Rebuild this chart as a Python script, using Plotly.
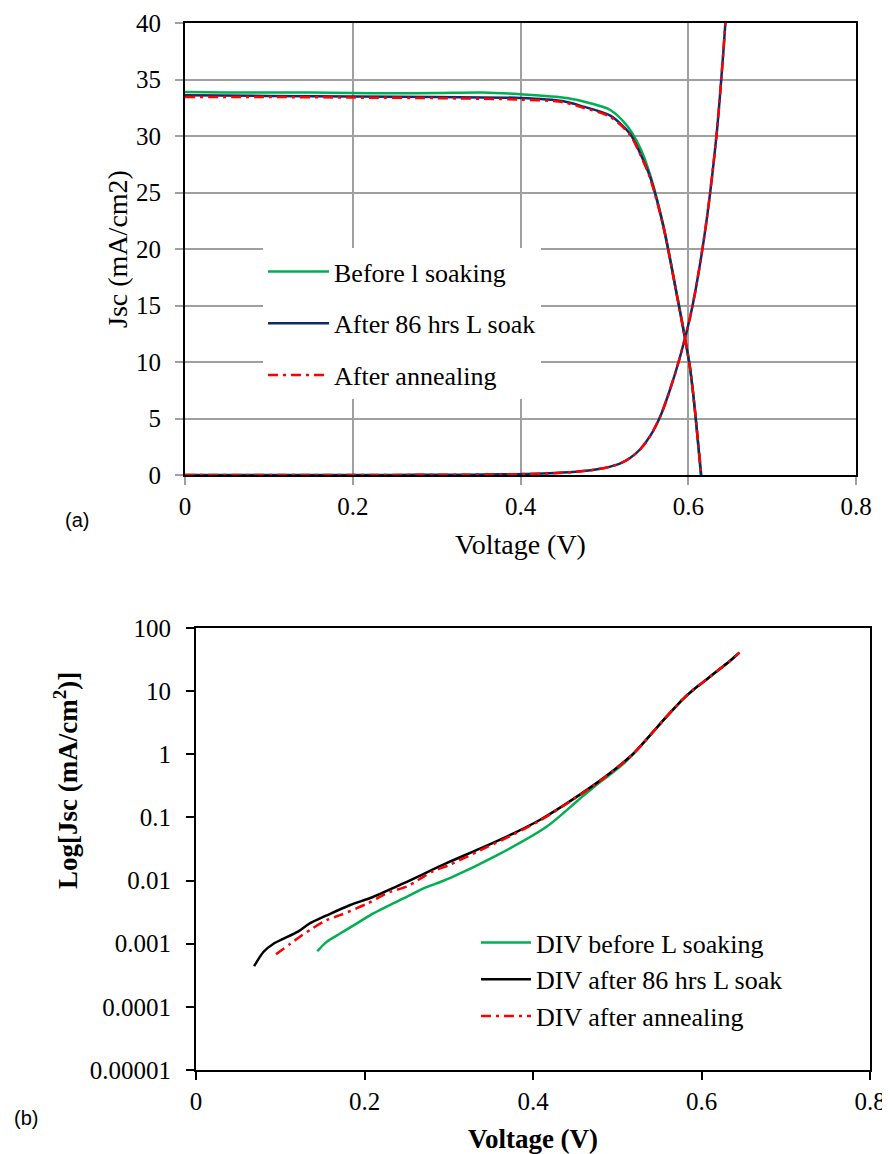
import plotly.graph_objects as go

# ---------------- (a) Illuminated J-V ----------------
V_light_before = [0.000, 0.050, 0.100, 0.150, 0.200, 0.250, 0.300, 0.355, 0.400, 0.455, 0.483, 0.507,
                  0.527, 0.543, 0.5544, 0.5703, 0.5862, 0.5941, 0.6021, 0.608, 0.615]
J_light_before = [33.9, 33.85, 33.85, 33.85, 33.8, 33.78, 33.8, 33.85, 33.7, 33.37, 32.9, 32.3,
                  30.9, 28.9, 26.6, 22.1, 16.1, 13.0, 9.5, 5.7, 0.0]

V_light_soak = [0.000, 0.100, 0.200, 0.300, 0.400, 0.450, 0.475, 0.507, 0.5306, 0.5425, 0.5544, 0.5703,
                0.5862, 0.5941, 0.6021, 0.608, 0.6155]
J_light_soak = [33.6, 33.55, 33.5, 33.45, 33.37, 33.1, 32.6, 31.8, 30.2, 28.5, 26.4, 22.0,
                16.0, 12.9, 9.5, 5.7, 0.0]

V_light_anneal = [0.000, 0.100, 0.200, 0.300, 0.400, 0.450, 0.475, 0.507, 0.5306, 0.5425, 0.5544, 0.5703,
                  0.5862, 0.5941, 0.6021, 0.608, 0.6155]
J_light_anneal = [33.45, 33.45, 33.4, 33.35, 33.22, 33.0, 32.5, 31.7, 30.1, 28.4, 26.3, 22.0,
                  16.0, 12.9, 9.5, 5.7, 0.0]

# ---------------- (b) Dark J-V (also the dark curves of panel a) ----------------
V_dark_before = [0.144, 0.155, 0.171, 0.191, 0.210, 0.230, 0.250, 0.270, 0.290, 0.302, 0.357, 0.416,
                 0.456, 0.472, 0.495, 0.507, 0.519, 0.531, 0.543, 0.555, 0.567, 0.578, 0.590, 0.602,
                 0.610, 0.622, 0.634, 0.642, 0.645]
J_dark_before = [7.6e-4, 1.07e-3, 1.45e-3, 2.1e-3, 3.0e-3, 4.1e-3, 5.5e-3, 7.5e-3, 9.5e-3, 0.011, 0.025, 0.071,
                 0.20, 0.30, 0.52, 0.70, 1.01, 1.51, 2.3, 3.5, 5.25, 7.5, 10.4, 13.9,
                 16.9, 22.6, 30.3, 37.6, 40.8]

V_dark_soak = [0.069, 0.080, 0.092, 0.104, 0.121, 0.135, 0.155, 0.183, 0.210, 0.246, 0.298, 0.337,
               0.377, 0.408, 0.440, 0.472, 0.495, 0.507, 0.519, 0.531, 0.543, 0.555, 0.567, 0.578,
               0.590, 0.602, 0.610, 0.622, 0.634, 0.642, 0.645]
J_dark_soak = [4.4e-4, 7.4e-4, 1.0e-3, 1.2e-3, 1.55e-3, 2.1e-3, 2.8e-3, 4.1e-3, 5.5e-3, 9.0e-3, 0.019, 0.032,
               0.056, 0.091, 0.167, 0.325, 0.55, 0.74, 1.02, 1.52, 2.3, 3.5, 5.25, 7.5,
               10.4, 13.9, 16.9, 22.6, 30.3, 37.6, 40.8]

V_dark_anneal = [0.095, 0.112, 0.123, 0.139, 0.155, 0.171, 0.203, 0.230, 0.250, 0.281, 0.300, 0.337,
                 0.377, 0.408, 0.440, 0.472, 0.495, 0.507, 0.519, 0.531, 0.543, 0.555, 0.567, 0.578,
                 0.590, 0.602, 0.610, 0.622, 0.634, 0.642, 0.645]
J_dark_anneal = [6.8e-4, 1.0e-3, 1.28e-3, 1.78e-3, 2.36e-3, 2.83e-3, 4.3e-3, 6.6e-3, 8.0e-3, 0.014, 0.0175, 0.030,
                 0.054, 0.089, 0.165, 0.32, 0.545, 0.735, 1.02, 1.51, 2.3, 3.5, 5.25, 7.5,
                 10.4, 13.9, 16.9, 22.6, 30.3, 37.6, 40.8]

names_a = ["Before l soaking", "After 86 hrs L soak", "After annealing"]
names_b = ["DIV before L soaking", "DIV after 86 hrs L soak", "DIV after annealing"]
x_ticks = [0, 0.2, 0.4, 0.6, 0.8]
y_ticks_a = [0, 5, 10, 15, 20, 25, 30, 35, 40]
y_ticks_b = [1e-5, 1e-4, 1e-3, 1e-2, 1e-1, 1, 10, 100]
y_ticktext_b = ["0.00001", "0.0001", "0.001", "0.01", "0.1", "1", "10", "100"]

GREEN = "#00b050"
NAVY = "#0e2a6b"
RED = "#ff0000"
BLACK = "#000000"
DASHDOT = "10px,5px,3px,5px"
SERIF = "Liberation Serif, Times New Roman, serif"
SANS = "Liberation Sans, Arial, sans-serif"

# the page adds an 8 px body margin before the figure
OFF = 8
W, H = 890 - OFF, 1154 - OFF


def X(s):
    return (s - OFF) / W


def Y(s):
    return 1 - (s - OFF) / H


fig = go.Figure()

spl = dict(shape="spline", smoothing=0.8, width=2.5)

# panel (a)
fig.add_trace(go.Scatter(x=V_light_before, y=J_light_before, mode="lines", name=names_a[0],
                         line=dict(color=GREEN, **spl),
                         xaxis="x", yaxis="y", legend="legend", legendgroup="a1"))
fig.add_trace(go.Scatter(x=V_light_soak, y=J_light_soak, mode="lines", name=names_a[1],
                         line=dict(color=NAVY, **spl),
                         xaxis="x", yaxis="y", legend="legend", legendgroup="a2"))
fig.add_trace(go.Scatter(x=[0.0] + V_dark_soak, y=[0.0] + J_dark_soak, mode="lines", name=names_a[1],
                         line=dict(color=NAVY, **spl),
                         xaxis="x", yaxis="y", legend="legend", legendgroup="a2", showlegend=False))
fig.add_trace(go.Scatter(x=V_light_anneal, y=J_light_anneal, mode="lines", name=names_a[2],
                         line=dict(color=RED, dash=DASHDOT, **spl),
                         xaxis="x", yaxis="y", legend="legend", legendgroup="a3"))
fig.add_trace(go.Scatter(x=[0.0] + V_dark_anneal, y=[0.0] + J_dark_anneal, mode="lines", name=names_a[2],
                         line=dict(color=RED, dash=DASHDOT, **spl),
                         xaxis="x", yaxis="y", legend="legend", legendgroup="a3", showlegend=False))

# panel (b)
fig.add_trace(go.Scatter(x=V_dark_before, y=J_dark_before, mode="lines", name=names_b[0],
                         line=dict(color=GREEN, **spl),
                         xaxis="x2", yaxis="y2", legend="legend2", legendgroup="b1"))
fig.add_trace(go.Scatter(x=V_dark_soak, y=J_dark_soak, mode="lines", name=names_b[1],
                         line=dict(color=BLACK, **spl),
                         xaxis="x2", yaxis="y2", legend="legend2", legendgroup="b2"))
fig.add_trace(go.Scatter(x=V_dark_anneal, y=J_dark_anneal, mode="lines", name=names_b[2],
                         line=dict(color=RED, dash=DASHDOT, **spl),
                         xaxis="x2", yaxis="y2", legend="legend2", legendgroup="b3"))

tick_font = dict(family=SERIF, size=25, color="black")

fig.update_layout(
    width=W, height=H,
    margin=dict(l=0, r=0, t=0, b=0, autoexpand=False),
    paper_bgcolor="white", plot_bgcolor="white",
    font=dict(family=SERIF, color="black"),
    xaxis=dict(domain=[X(185), X(856)], anchor="y", range=[0, 0.8], tickvals=x_ticks,
               showgrid=True, gridcolor="#a0a0a0", gridwidth=1.5, automargin=False,
               showline=True, linecolor="black", linewidth=2, mirror=True,
               ticks="outside", ticklen=8, tickcolor="#a0a0a0", tickwidth=1.5,
               tickfont=tick_font, zeroline=False, ticklabeloverflow="allow",
               title=dict(text="Voltage (V)", font=dict(family=SERIF, size=28), standoff=15)),
    yaxis=dict(domain=[Y(475), Y(23)], anchor="x", range=[0, 40], tickvals=y_ticks_a,
               showgrid=True, gridcolor="#a0a0a0", gridwidth=1.5, automargin=False,
               showline=True, linecolor="black", linewidth=2, mirror=True,
               ticks="outside", ticklen=8, tickcolor="#a0a0a0", tickwidth=1.5,
               tickfont=tick_font, zeroline=False, ticklabelstandoff=9, ticklabeloverflow="allow",
               title=dict(text="Jsc (mA/cm2)", font=dict(family=SERIF, size=28), standoff=0)),
    xaxis2=dict(domain=[X(196), X(870)], anchor="y2", range=[0, 0.8], tickvals=x_ticks,
                showgrid=False, showline=True, linecolor="black", linewidth=2, mirror=True,
                ticks="outside", ticklen=8, tickcolor="black", tickwidth=1.5, automargin=False,
                tickfont=tick_font, zeroline=False, ticklabeloverflow="allow",
                title=dict(text="<b>Voltage (V)</b>", font=dict(family=SERIF, size=27), standoff=21)),
    yaxis2=dict(domain=[Y(1070), Y(628)], anchor="x2", type="log", range=[-5, 2],
                tickvals=y_ticks_b, ticktext=y_ticktext_b, automargin=False,
                showgrid=False, showline=True, linecolor="black", linewidth=2, mirror=True,
                ticks="outside", ticklen=8, tickcolor="black", tickwidth=1.5,
                tickfont=tick_font, zeroline=False, ticklabelstandoff=10, ticklabeloverflow="allow"),
    legend=dict(x=X(263), xanchor="left", y=Y(248), yanchor="top",
                bgcolor="white", borderwidth=0, font=dict(family=SERIF, size=26),
                tracegroupgap=15, itemwidth=61, entrywidth=340, entrywidthmode="pixels"),
    legend2=dict(x=X(476), xanchor="left", y=Y(919), yanchor="top",
                 bgcolor="rgba(255,255,255,0)", borderwidth=0, font=dict(family=SERIF, size=26),
                 tracegroupgap=0, itemwidth=50),
    annotations=[
        dict(text="(a)", x=X(77), y=Y(520), xref="paper", yref="paper", showarrow=False,
             xanchor="center", yanchor="middle",
             font=dict(family=SANS, size=20, color="black")),
        dict(text="(b)", x=X(26), y=Y(1118), xref="paper", yref="paper", showarrow=False,
             xanchor="center", yanchor="middle",
             font=dict(family=SANS, size=20, color="black")),
        dict(text="<b>Log[Jsc (mA/cm<sup>2</sup>)]</b>", x=X(66), y=Y(780), xref="paper", yref="paper",
             showarrow=False, textangle=-90, xanchor="center", yanchor="middle",
             font=dict(family=SERIF, size=27, color="black")),
    ],
    showlegend=True,
)

fig.write_html("out.html")
